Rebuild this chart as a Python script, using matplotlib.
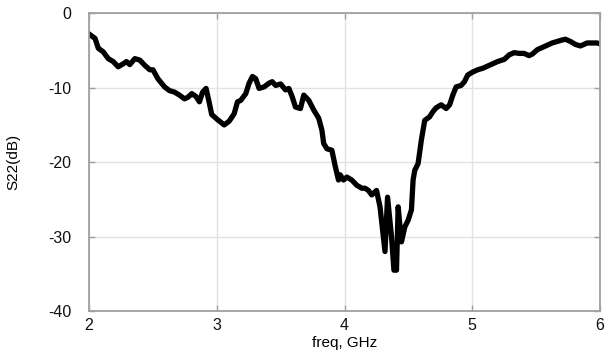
import matplotlib
matplotlib.use('Agg')
import matplotlib.pyplot as plt

# S22 trace (freq in GHz, S22 in dB)
freq = [2.000, 2.047, 2.072, 2.111, 2.150, 2.189, 2.228, 2.267, 2.293, 2.319,
        2.358, 2.397, 2.436, 2.475, 2.500, 2.539, 2.591, 2.630, 2.669, 2.708,
        2.747, 2.773, 2.804, 2.838, 2.864, 2.889, 2.916, 2.942, 2.960, 3.006,
        3.058, 3.097, 3.136, 3.162, 3.188, 3.227, 3.253, 3.279, 3.305, 3.331,
        3.370, 3.409, 3.434, 3.461, 3.500, 3.538, 3.564, 3.590, 3.616, 3.655,
        3.681, 3.720, 3.759, 3.798, 3.823, 3.837, 3.862, 3.901, 3.928, 3.953,
        3.966, 3.992, 4.018, 4.057, 4.096, 4.135, 4.161, 4.187, 4.213, 4.251,
        4.278, 4.317, 4.337, 4.368, 4.387, 4.407, 4.420, 4.446, 4.472, 4.498,
        4.524, 4.537, 4.550, 4.576, 4.602, 4.628, 4.667, 4.693, 4.718, 4.757,
        4.796, 4.823, 4.848, 4.874, 4.913, 4.939, 4.965, 5.004, 5.043, 5.082,
        5.121, 5.160, 5.198, 5.251, 5.289, 5.328, 5.367, 5.406, 5.445, 5.470,
        5.510, 5.549, 5.588, 5.626, 5.665, 5.704, 5.730, 5.769, 5.808, 5.847,
        5.874, 5.899, 5.938, 5.977, 6.000]
s22 = [-2.8, -3.4, -4.7, -5.2, -6.1, -6.5, -7.2, -6.8, -6.5, -6.9,
       -6.1, -6.3, -7.0, -7.6, -7.6, -8.8, -9.9, -10.4, -10.6, -11.0,
       -11.5, -11.3, -10.8, -11.2, -11.9, -10.6, -10.1, -12.1, -13.6, -14.3,
       -15.0, -14.5, -13.5, -11.9, -11.7, -10.8, -9.4, -8.5, -8.8, -10.1,
       -9.9, -9.4, -9.2, -9.7, -9.5, -10.3, -10.1, -11.2, -12.6, -12.8,
       -11.0, -11.7, -13.0, -14.1, -15.7, -17.5, -18.2, -18.4, -20.6, -22.4,
       -21.7, -22.4, -22.0, -22.4, -23.1, -23.5, -23.5, -23.8, -24.4, -23.8,
       -26.0, -32.0, -24.7, -30.0, -34.5, -34.5, -26.0, -30.7, -28.7, -27.8,
       -26.4, -22.4, -21.1, -20.2, -17.0, -14.4, -13.9, -13.2, -12.7, -12.3,
       -12.8, -12.3, -11.0, -9.9, -9.7, -9.2, -8.3, -7.9, -7.6, -7.4,
       -7.1, -6.8, -6.5, -6.2, -5.6, -5.3, -5.4, -5.4, -5.7, -5.5,
       -4.9, -4.6, -4.3, -4.0, -3.8, -3.6, -3.5, -3.8, -4.2, -4.4,
       -4.2, -4.0, -4.0, -4.0, -4.1]

xticks = [2, 3, 4, 5, 6]
yticks = [0, -10, -20, -30, -40]

plt.rcParams['font.family'] = ['Liberation Sans', 'DejaVu Sans']
plt.rcParams['axes.unicode_minus'] = False

fig = plt.figure(figsize=(6.06, 3.56), dpi=100)
ax = fig.add_subplot(1, 1, 1)
fig.subplots_adjust(left=0.147, right=0.99, top=0.963, bottom=0.126)

ax.plot(freq, s22, color='black', lw=3.8, solid_joinstyle='round')

ax.set_xlim(2, 6)
ax.set_ylim(-40, 0)
ax.set_xticks(xticks)
ax.set_yticks(yticks)
ax.grid(True, color='#e2e2e2', lw=1)
ax.set_axisbelow(True)
for sp in ax.spines.values():
    sp.set_color('#a0a0a0')
    sp.set_linewidth(1.3)
ax.tick_params(direction='in', length=4, width=1, color='#a0a0a0',
               labelsize=11.5, labelcolor='#111111', right=True, top=True)
ax.tick_params(axis='y', pad=13)
ax.tick_params(axis='x', pad=5)

ax.set_xlabel('freq, GHz', fontsize=11)
ax.set_ylabel('S22(dB)', fontsize=11)
ax.xaxis.set_label_coords(0.5, -0.085)
ax.yaxis.set_label_coords(-0.135, 0.5)

fig.savefig('out.png', dpi=100)
